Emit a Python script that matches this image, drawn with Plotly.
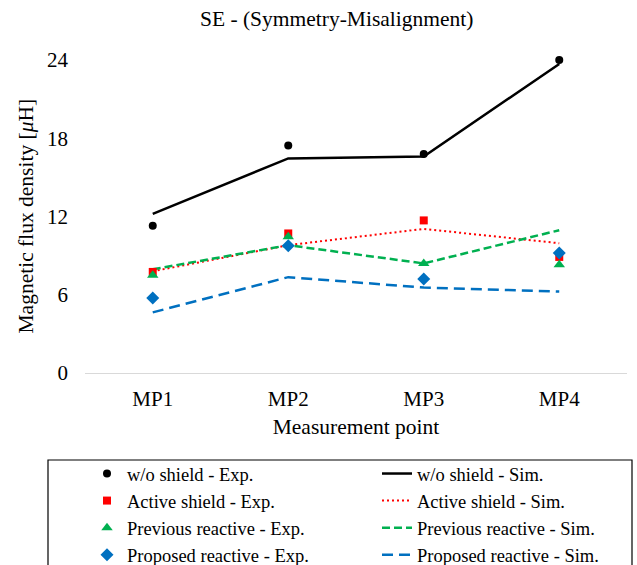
import plotly.graph_objects as go

categories = ["MP1", "MP2", "MP3", "MP4"]

wo_exp = [11.3, 17.45, 16.8, 24.0]
wo_sim = [12.2, 16.45, 16.6, 23.7]
active_exp = [7.75, 10.7, 11.7, 8.9]
active_sim = [7.8, 9.8, 11.05, 9.95]
previous_exp = [7.5, 10.45, 8.4, 8.3]
previous_sim = [7.95, 9.8, 8.4, 10.95]
proposed_exp = [5.75, 9.75, 7.2, 9.2]
proposed_sim = [4.65, 7.35, 6.55, 6.25]

y_ticks = [0, 6, 12, 18, 24]

FONT = "Liberation Serif, Times New Roman, serif"

fig = go.Figure()

sims = [
    ("w/o shield - Sim.", wo_sim, "#000000", "solid", 2.5),
    ("Active shield - Sim.", active_sim, "#FF0000", "2px,3px", 2),
    ("Previous reactive - Sim.", previous_sim, "#00B050", "8px,4px", 2.5),
    ("Proposed reactive - Sim.", proposed_sim, "#0070C0", "11px,6px", 2.5),
]
for name, vals, col, dash, w in sims:
    fig.add_trace(go.Scatter(
        x=categories, y=vals, mode="lines", name=name,
        line=dict(color=col, dash=dash, width=w),
        legend="legend2", cliponaxis=False,
    ))

exps = [
    ("w/o shield - Exp.", wo_exp, "#000000", "circle", 8),
    ("Active shield - Exp.", active_exp, "#FF0000", "square", 8),
    ("Previous reactive - Exp.", previous_exp, "#00B050", "triangle-up", 10),
    ("Proposed reactive - Exp.", proposed_exp, "#0070C0", "diamond", 10),
]
for name, vals, col, sym, sz in exps:
    fig.add_trace(go.Scatter(
        x=categories, y=vals, mode="markers", name=name,
        marker=dict(color=col, symbol=sym, size=sz, line=dict(width=0)),
        legend="legend", cliponaxis=False,
    ))

# legend frame (pixel -> paper conversion)
L, R, T, B = 85, 10, 60, 192
W, H = 637, 565
pw, ph = W - L - R, H - T - B
def px_x(p):
    return (p - L) / pw
def px_y(p):
    return (H - B - p) / ph

fig.add_shape(type="rect", xref="paper", yref="paper",
              x0=px_x(48), x1=px_x(632), y0=px_y(460), y1=px_y(580),
              line=dict(color="#000000", width=1.2), fillcolor="rgba(0,0,0,0)")

fig.add_annotation(
    text="Magnetic flux density [<i>μ</i>H]", textangle=-90,
    xref="paper", yref="paper", x=px_x(25), y=0.5,
    xanchor="center", yanchor="middle", showarrow=False,
    font=dict(size=21.5, family=FONT, color="#000000"),
)

leg_common = dict(
    orientation="v", xref="container", yref="container",
    xanchor="left", y=1 - 455 / H, yanchor="top",
    font=dict(size=18.5, family=FONT, color="#000000"),
    bgcolor="rgba(0,0,0,0)", borderwidth=0, traceorder="normal",
)

fig.update_layout(
    width=W, height=H,
    margin=dict(l=L, r=R, t=T, b=B, autoexpand=False),
    paper_bgcolor="white", plot_bgcolor="white",
    font=dict(family=FONT, color="#000000", size=21),
    title=dict(text="SE - (Symmetry-Misalignment)", x=336.7 / W, xanchor="center",
               xref="container", y=1 - 18 / H, yanchor="middle", yref="container",
               font=dict(size=21.5, family=FONT, color="#000000")),
    showlegend=True,
    legend=dict(x=87 / W, **leg_common),
    legend2=dict(x=377 / W, **leg_common),
)

fig.update_xaxes(
    type="category", range=[-0.5, 3.5],
    showline=True, linecolor="#D9D9D9", linewidth=1.3,
    showgrid=False, zeroline=False, ticks="", ticklabelstandoff=7,
    tickfont=dict(size=21, family=FONT),
    title=dict(text="Measurement point", standoff=8, font=dict(size=21.5, family=FONT)),
)
fig.update_yaxes(
    range=[0, 24], tickvals=y_ticks, ticktext=[str(v) for v in y_ticks],
    showline=False, showgrid=False, zeroline=False, ticks="", ticklabelstandoff=16,
    tickfont=dict(size=21, family=FONT),
)

fig.write_html("out.html")
